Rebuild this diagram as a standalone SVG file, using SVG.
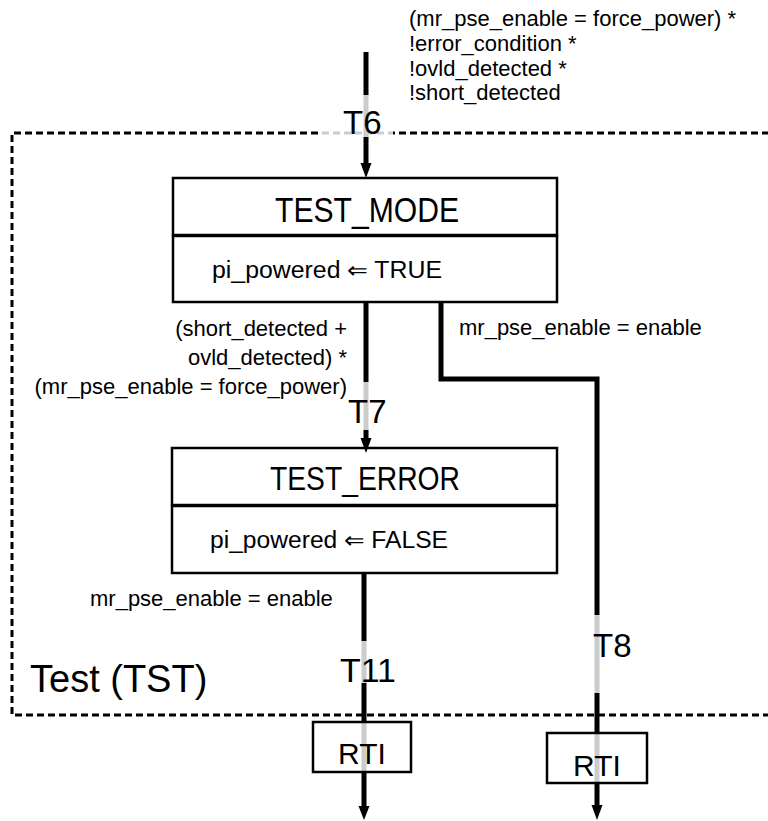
<svg xmlns="http://www.w3.org/2000/svg" width="768" height="821" viewBox="0 0 768 821">
<defs>
<style>
.t{font-family:"Liberation Sans",Arial,sans-serif;fill:#000}
.cond{font-size:22px}
.lbl{font-size:33px}
.box{fill:#fff;stroke:#000;stroke-width:2.5}
.wire{fill:none;stroke:#000;stroke-width:5}
.fade{fill:#fff;fill-opacity:0.8;stroke:none}
.head{fill:#000}
</style>
</defs>
<rect width="768" height="821" fill="#fff"/>

<g id="region_tst">
<path d="M780,133 H12 V715 H780" fill="none" stroke="#000" stroke-width="3" stroke-dasharray="7 4"/>
<text class="t" x="30" y="692" font-size="38">Test (TST)</text>
</g>

<g id="test_mode">
<rect class="box" x="173" y="178" width="384" height="57"/>
<rect class="box" x="173" y="236" width="384" height="66"/>
<text class="t" x="275" y="222" font-size="35" textLength="184" lengthAdjust="spacingAndGlyphs">TEST_MODE</text>
<text class="t" x="212" y="278" font-size="23" textLength="230" lengthAdjust="spacingAndGlyphs">pi_powered ⇐ TRUE</text>
</g>

<g id="test_error">
<rect class="box" x="172" y="448" width="385" height="57"/>
<rect class="box" x="172" y="506" width="385" height="67"/>
<text class="t" x="270" y="490" font-size="33" textLength="190" lengthAdjust="spacingAndGlyphs">TEST_ERROR</text>
<text class="t" x="210" y="548" font-size="23" textLength="238" lengthAdjust="spacingAndGlyphs">pi_powered ⇐ FALSE</text>
</g>

<g id="connectors">
<path class="wire" d="M366,52 V164"/>
<polygon class="head" points="360.5,163 371.5,163 366,178"/>
<path class="wire" d="M366,302 V439"/>
<polygon class="head" points="360.5,438 371.5,438 366,453"/>
<path class="wire" d="M441,302 V379 H597 V806"/>
<polygon class="head" points="591.5,805 602.5,805 597,820"/>
<path class="wire" d="M364,573 V807"/>
<polygon class="head" points="358.5,806 369.5,806 364,820"/>
</g>

<g id="label_backs">
<rect class="fade" x="322" y="95" width="71" height="42"/>
<rect class="fade" x="345" y="382" width="45" height="48"/>
<rect class="fade" x="590" y="615" width="46" height="78"/>
<rect class="fade" x="338" y="641" width="62" height="42"/>
</g>

<g id="rti_1">
<rect x="313" y="722" width="98" height="50" fill="#fff" fill-opacity="0.8" stroke="#000" stroke-width="2.5"/>
<text class="t" x="362" y="764" font-size="30" text-anchor="middle">RTI</text>
</g>

<g id="rti_2">
<rect x="547" y="733" width="100" height="50" fill="#fff" fill-opacity="0.8" stroke="#000" stroke-width="2.5"/>
<text class="t" x="597" y="776" font-size="30" text-anchor="middle">RTI</text>
</g>

<g id="labels">
<text class="t lbl" x="343" y="134">T6</text>
<text class="t lbl" x="348" y="423">T7</text>
<text class="t lbl" x="593" y="657">T8</text>
<text class="t lbl" x="340" y="682" textLength="56" lengthAdjust="spacingAndGlyphs">T11</text>

<text class="t cond" x="409" y="26">(mr_pse_enable = force_power) *</text>
<text class="t cond" x="409" y="51">!error_condition *</text>
<text class="t cond" x="409" y="76">!ovld_detected *</text>
<text class="t cond" x="409" y="100">!short_detected</text>

<text class="t cond" x="347" y="336" text-anchor="end">(short_detected +</text>
<text class="t cond" x="347" y="365" text-anchor="end">ovld_detected) *</text>
<text class="t cond" x="347" y="394" text-anchor="end">(mr_pse_enable = force_power)</text>

<text class="t cond" x="459" y="335">mr_pse_enable = enable</text>
<text class="t cond" x="90" y="606">mr_pse_enable = enable</text>
</g>
</svg>
